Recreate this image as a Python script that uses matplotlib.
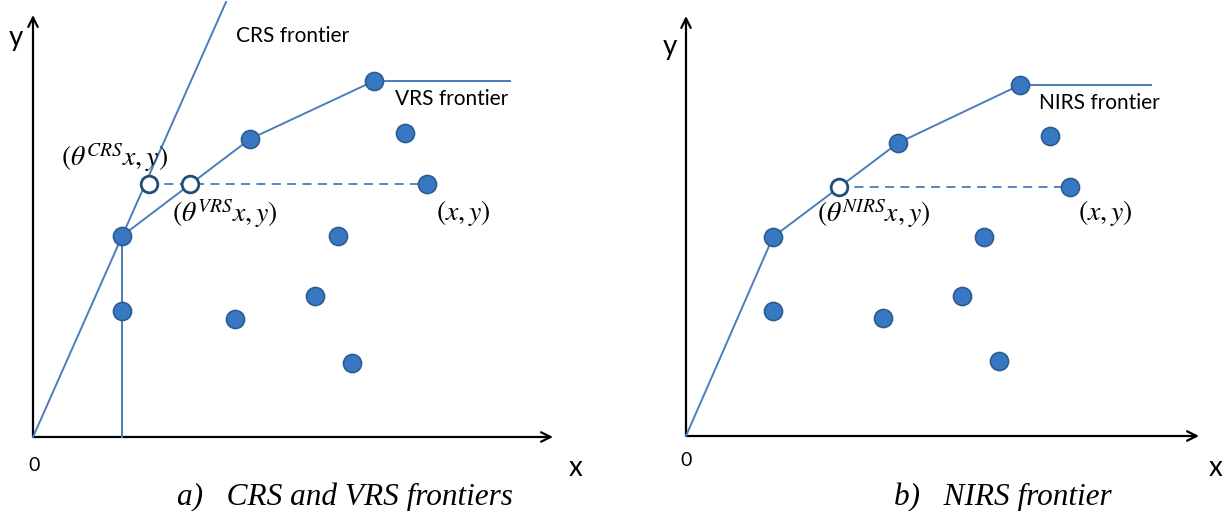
import matplotlib
matplotlib.use("Agg")
import matplotlib.pyplot as plt

plt.rcParams['mathtext.fontset'] = 'stix'

# ---------------------------------------------------------------
# Data (arbitrary units, origin of each panel at (0, 0))
# ---------------------------------------------------------------
# a) CRS and VRS frontiers
vrs_x = [8.9, 21.7, 34.1, 47.7]
vrs_y = [20.1, 29.8, 35.6, 35.6]
crs_x = [0, 19.3]
crs_y = [0, 43.5]
a_pts_x = [8.9, 21.7, 34.1, 8.9, 37.2, 39.4, 30.5, 28.2, 20.2, 31.9]
a_pts_y = [20.1, 29.8, 35.6, 12.6, 30.4, 25.3, 20.1, 14.1, 11.8, 7.4]
a_proj_x = [11.6, 15.7]          # theta_CRS x, theta_VRS x
a_proj_y = [25.3, 25.3]
a_dmu = (39.4, 25.3)             # evaluated unit (x, y)

# b) NIRS frontier
nirs_x = [0, 8.7, 21.2, 33.4, 46.5]
nirs_y = [0, 19.9, 29.3, 35.1, 35.1]
b_pts_x = [8.7, 21.2, 33.4, 8.7, 36.4, 38.4, 29.8, 27.6, 19.7, 31.3]
b_pts_y = [19.9, 29.3, 35.1, 12.5, 30.0, 24.9, 19.9, 14.0, 11.8, 7.5]
b_proj_x = [15.3]
b_proj_y = [24.9]
b_dmu = (38.4, 24.9)

line_c = '#4A7EBB'
fill_c = '#3878C2'
edge_c = '#2B5C90'
hollow_edge = '#1F4E79'
sans = ['Lato', 'DejaVu Sans']
serif = ['Liberation Serif', 'DejaVu Serif']

fig = plt.figure(figsize=(12.24, 5.11), dpi=100)
ax1 = fig.add_axes([0, 0, 0.5, 1])
ax2 = fig.add_axes([0.5, 0, 0.5, 1])
ax1.set_xlim(-3.3, 57.9)
ax1.set_ylim(-7.4, 43.7)
ax2.set_xlim(-7.4, 53.8)
ax2.set_ylim(-7.5, 43.6)


def draw_axes(ax, x_end, y_end):
    arrow = dict(arrowstyle='->', color='black', lw=1.6, mutation_scale=17,
                 shrinkA=0, shrinkB=0)
    ax.annotate('', xy=(x_end, 0), xytext=(0, 0), arrowprops=arrow)
    ax.annotate('', xy=(0, y_end), xytext=(0, 0), arrowprops=arrow)


def draw_points(ax, px, py, hx, hy, dmu):
    ax.plot([hx[0], dmu[0]], [hy[0], dmu[1]], color=line_c, lw=1.3,
            ls=(0, (5, 3.5)), zorder=2)
    ax.plot(px, py, 'o', ms=13, mfc=fill_c, mec=edge_c, mew=1.2, zorder=4)
    ax.plot(hx, hy, 'o', ms=12, mfc='white', mec=hollow_edge, mew=2,
            zorder=5)


# ---- panel a ----
draw_axes(ax1, 52.0, 42.2)
ax1.plot(crs_x, crs_y, color=line_c, lw=1.4, zorder=3)
ax1.plot(vrs_x, vrs_y, color=line_c, lw=1.4, zorder=3)
ax1.plot([vrs_x[0], vrs_x[0]], [0, vrs_y[0]], color=line_c, lw=1.4, zorder=3)
draw_points(ax1, a_pts_x, a_pts_y, a_proj_x, a_proj_y, a_dmu)

ax1.text(-1.7, 39.9, 'y', fontsize=20, family=sans, ha='center', va='center')
ax1.text(0.1, -2.8, '0', fontsize=14, family=sans, ha='center', va='center')
ax1.text(54.3, -3.1, 'x', fontsize=20, family=sans, ha='center', va='center')
ax1.text(20.3, 40.1, 'CRS frontier', fontsize=15, family=sans, va='center')
ax1.text(36.2, 33.8, 'VRS frontier', fontsize=15, family=sans, va='center')
ax1.text(8.15, 28.0, r'$(\theta^{CRS}x, y)$', fontsize=20, ha='center', va='center')
ax1.text(19.2, 22.4, r'$(\theta^{VRS}x, y)$', fontsize=20, ha='center', va='center')
ax1.text(43.05, 22.4, r'$(x, y)$', fontsize=20, ha='center', va='center')
ax1.text(31.2, -6.0, 'a)   CRS and VRS frontiers', fontsize=22.5, family=serif,
         style='italic', ha='center', va='center')

# ---- panel b ----
draw_axes(ax2, 51.3, 42.0)
ax2.plot(nirs_x, nirs_y, color=line_c, lw=1.4, zorder=3)
draw_points(ax2, b_pts_x, b_pts_y, b_proj_x, b_proj_y, b_dmu)

ax2.text(-1.6, 38.9, 'y', fontsize=20, family=sans, ha='center', va='center')
ax2.text(0.0, -2.4, '0', fontsize=14, family=sans, ha='center', va='center')
ax2.text(53.0, -3.2, 'x', fontsize=20, family=sans, ha='center', va='center')
ax2.text(35.3, 33.3, 'NIRS frontier', fontsize=15, family=sans, va='center')
ax2.text(18.8, 22.3, r'$(\theta^{NIRS}x, y)$', fontsize=20, ha='center', va='center')
ax2.text(41.95, 22.3, r'$(x, y)$', fontsize=20, ha='center', va='center')
ax2.text(31.65, -6.1, 'b)   NIRS frontier', fontsize=22.5, family=serif,
         style='italic', ha='center', va='center')

for ax in (ax1, ax2):
    ax.axis('off')

fig.savefig('out.png', dpi=100)
